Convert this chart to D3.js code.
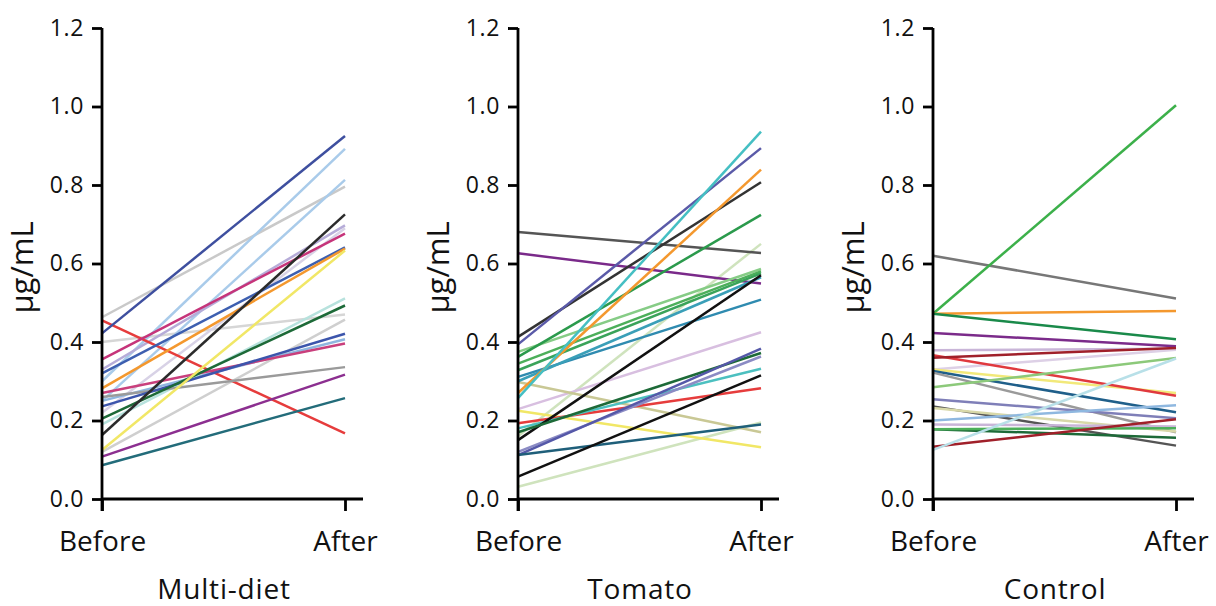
<!DOCTYPE html>
<html>
<head>
<meta charset="utf-8">
<script src="https://cdn.jsdelivr.net/npm/d3@7"></script>
<style>
  body { margin: 0; background: #fff; }
  text { font-family: "Open Sans", "Noto Sans", sans-serif; fill: #111; }
</style>
</head>
<body>
<div id="chart"></div>
<script>
var times = ["Before", "After"];
var yTicks = [0, 0.2, 0.4, 0.6, 0.8, 1.0, 1.2];
var panelNames = ["Multi-diet", "Tomato", "Control"];

// each subject: [before, after, colour]
var multiDiet = [
  [0.463, 0.796, "#c9c9c9"],
  [0.40, 0.470, "#d6d6d6"],
  [0.12, 0.457, "#cfcfcf"],
  [0.22, 0.690, "#d8d2e6"],
  [0.30, 0.892, "#a9cbea"],
  [0.25, 0.813, "#a9cbea"],
  [0.25, 0.407, "#8fb6df"],
  [0.19, 0.511, "#b7e2dd"],
  [0.33, 0.697, "#b6acd8"],
  [0.455, 0.167, "#e63c3c"],
  [0.422, 0.925, "#3e4f9f"],
  [0.356, 0.676, "#c6347a"],
  [0.32, 0.641, "#3d5fb0"],
  [0.282, 0.638, "#f4982e"],
  [0.27, 0.396, "#c93f7c"],
  [0.26, 0.336, "#9a9a9a"],
  [0.236, 0.421, "#3c55ac"],
  [0.205, 0.493, "#1d6a38"],
  [0.163, 0.725, "#2b2b2b"],
  [0.125, 0.633, "#f1e766"],
  [0.108, 0.317, "#8c2f90"],
  [0.086, 0.257, "#236c7a"]
];

var tomato = [
  [0.16, 0.650, "#cfe3bd"],
  [0.031, 0.195, "#cfe3bd"],
  [0.229, 0.425, "#d8bfe0"],
  [0.298, 0.170, "#c9c895"],
  [0.68, 0.627, "#555555"],
  [0.626, 0.549, "#7a2a8a"],
  [0.413, 0.807, "#333333"],
  [0.394, 0.894, "#5a5aa8"],
  [0.375, 0.586, "#86cc86"],
  [0.362, 0.724, "#2b9a4c"],
  [0.345, 0.580, "#4caf5a"],
  [0.328, 0.575, "#3aa35a"],
  [0.311, 0.508, "#2f8bb0"],
  [0.30, 0.565, "#3a9fb8"],
  [0.27, 0.839, "#f4982e"],
  [0.257, 0.936, "#45bfc3"],
  [0.225, 0.132, "#f1e766"],
  [0.193, 0.282, "#e63c3c"],
  [0.18, 0.332, "#4cc0c0"],
  [0.15, 0.570, "#111111"],
  [0.17, 0.372, "#1d6a38"],
  [0.12, 0.363, "#8b8bc4"],
  [0.112, 0.383, "#5558a8"],
  [0.112, 0.190, "#1f5f7a"],
  [0.057, 0.315, "#111111"]
];

var control = [
  [0.62, 0.511, "#777777"],
  [0.472, 1.003, "#3cb04a"],
  [0.472, 0.479, "#f4982e"],
  [0.472, 0.407, "#1a8a4a"],
  [0.423, 0.389, "#7b2b8a"],
  [0.379, 0.383, "#c9b5d8"],
  [0.33, 0.380, "#ddd0e6"],
  [0.33, 0.270, "#f2e97a"],
  [0.366, 0.263, "#e0393e"],
  [0.36, 0.385, "#a0202a"],
  [0.326, 0.221, "#1f5f8a"],
  [0.322, 0.170, "#9a9a9a"],
  [0.285, 0.359, "#8cc97a"],
  [0.254, 0.206, "#7f7fb8"],
  [0.236, 0.136, "#555555"],
  [0.232, 0.172, "#d8d8a8"],
  [0.2, 0.239, "#8fb8e0"],
  [0.19, 0.185, "#c9b5d8"],
  [0.178, 0.156, "#1d6a38"],
  [0.178, 0.180, "#4caf5a"],
  [0.133, 0.203, "#a0202a"],
  [0.125, 0.358, "#b8e0e8"]
];

var panels = [multiDiet, tomato, control];
var panelX = [102, 518, 933];

var width = 1216, height = 606;
var svg = d3.select("#chart").append("svg")
  .attr("width", width)
  .attr("height", height);

var y = d3.scaleLinear().domain([0, 1.2]).range([499, 28]);

panels.forEach(function (data, i) {
  var x0 = panelX[i];
  var x = d3.scalePoint().domain(times).range([x0, x0 + 243]);

  var g = svg.append("g");

  // lines
  g.append("g")
    .selectAll("line")
    .data(data)
    .enter()
    .append("line")
    .attr("x1", x("Before"))
    .attr("x2", x("After"))
    .attr("y1", function (d) { return y(d[0]); })
    .attr("y2", function (d) { return y(d[1]); })
    .attr("stroke", function (d) { return d[2]; })
    .attr("stroke-width", 2.5);

  // y axis
  var yAxis = g.append("g")
    .attr("transform", "translate(" + x0 + ",0)")
    .call(d3.axisLeft(y).tickValues(yTicks).tickFormat(d3.format(".1f")).tickSize(10).tickPadding(8));
  yAxis.select(".domain").attr("stroke", "#000").attr("stroke-width", 2.8)
    .attr("d", "M0," + y(1.2) + "V" + (y(0) + 12));
  yAxis.selectAll(".tick line").attr("stroke", "#000").attr("stroke-width", 2.8);
  yAxis.selectAll(".tick text")
    .style("font-size", "23px")
    .style("letter-spacing", "0.6px")
    .attr("fill", "#111");

  // x axis
  var xAxis = g.append("g")
    .attr("transform", "translate(0," + y(0) + ")")
    .call(d3.axisBottom(x).tickSize(12).tickPadding(20));
  xAxis.select(".domain").attr("stroke", "#000").attr("stroke-width", 2.8)
    .attr("d", "M" + x0 + ",0H" + (x0 + 261));
  xAxis.selectAll(".tick line").attr("stroke", "#000").attr("stroke-width", 2.8);
  xAxis.selectAll(".tick text").style("font-size", "28px").attr("fill", "#111");

  // y label
  g.append("text")
    .attr("transform", "translate(" + (x0 - 69) + "," + y(0.59) + ") rotate(-90)")
    .attr("text-anchor", "middle")
    .style("font-size", "31px")
    .text("μg/mL");

  // panel title
  g.append("text")
    .attr("x", x0 + 122)
    .attr("y", 599)
    .attr("text-anchor", "middle")
    .style("font-size", "28px")
    .style("letter-spacing", "0.8px")
    .text(panelNames[i]);
});
</script>
</body>
</html>
